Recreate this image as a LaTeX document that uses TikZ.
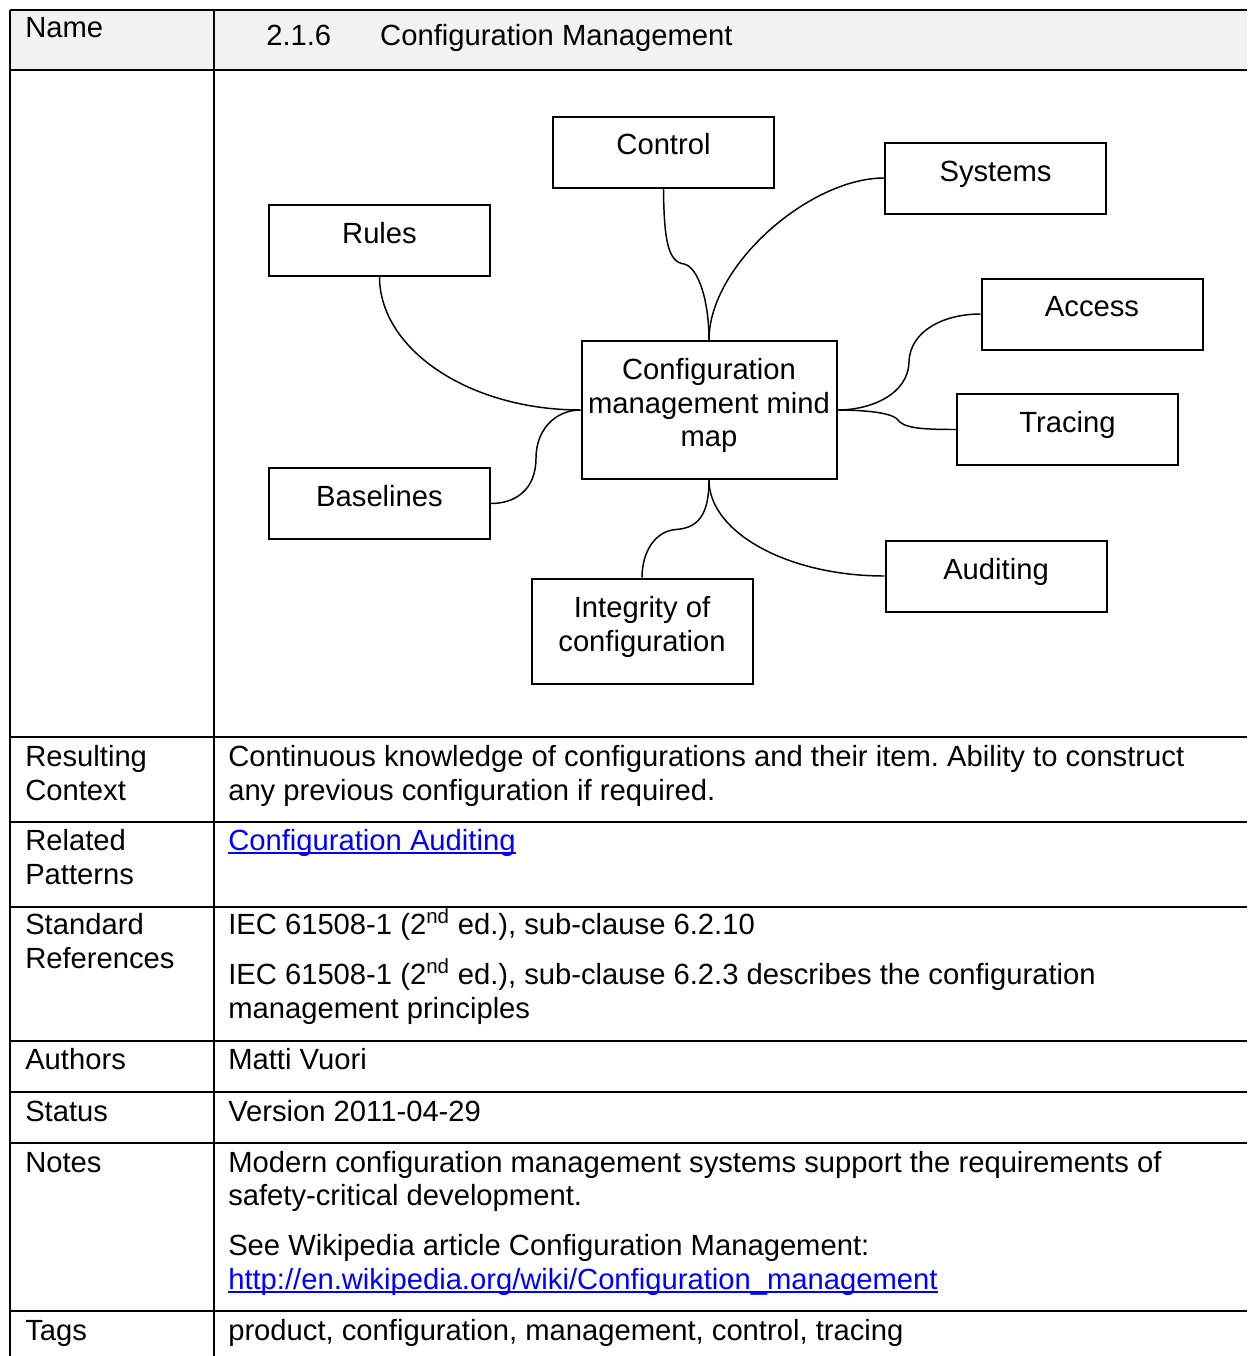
\documentclass[tikz,border=0pt]{standalone}
\usepackage{fontspec}
\setmainfont{Liberation Sans}
\usetikzlibrary{calc}
\definecolor{hdrgray}{HTML}{F2F2F2}
\definecolor{linkblue}{HTML}{0000FF}
\frenchspacing
\begin{document}
\begin{tikzpicture}[x=0.75pt,y=-0.75pt,
  font=\fontsize{21.9pt}{25.5pt}\selectfont,
  rulestroke/.style={line width=1.9pt},
  mapbox/.style={draw, line width=1.5pt, inner sep=0pt,
    minimum width=165.75pt, minimum height=53.25pt},
  boxtext/.style={anchor=base, inner sep=0pt},
  cell/.style={anchor=base west, inner sep=0pt},
  branch/.style={line width=1.1pt},
  weblink/.style={cell, text=linkblue}]
\useasboundingbox (0,0) rectangle (1247,1356);

% ---------- table frame ----------
\fill[hdrgray] (10,10) rectangle (1247,70);
\draw[rulestroke] (10,10) -- (1247,10);
\draw[rulestroke] (10,70) -- (1247,70);
\foreach \yy in {737,822,907,1041,1092,1143,1311}
  \draw[rulestroke] (10,\yy) -- (1247,\yy);
\draw[rulestroke] (10,10) -- (10,1356);
\draw[rulestroke] (214,10) -- (214,1356);

% ---------- header ----------
\node[cell] (hname) at (25,37) {Name};
\node[cell] (htitle) at (266,45) {\makebox[85.5pt][l]{2.1.6}Configuration Management};

% ---------- mind map boxes ----------
\node[mapbox] (ctl) at (663.5,152.5) {};
\node[mapbox] (sys) at (995.5,178) {};
\node[mapbox] (rul) at (379.5,240) {};
\node[mapbox] (acc) at (1092,314) {};
\node[mapbox, minimum width=191.25pt, minimum height=103.5pt] (cen) at (709,410) {};
\node[mapbox] (trc) at (1067.5,429.5) {};
\node[mapbox] (bas) at (379.5,503.5) {};
\node[mapbox] (aud) at (996,576) {};
\node[mapbox, minimum height=78.75pt] (itg) at (642,631) {};

\node[boxtext] (ctlt) at ($(ctl.north)+(0,38)$) {Control};
\node[boxtext] (syst) at ($(sys.north)+(0,40)$) {Systems};
\node[boxtext] (rult) at ($(rul.north)+(0,40)$) {Rules};
\node[boxtext] (acct) at ($(acc.north)+(0,39)$) {Access};
\node[boxtext] (cent1) at ($(cen.north)+(0,39)$) {Configuration};
\node[boxtext] (cent2) at ($(cen.north)+(0,73)$) {management mind};
\node[boxtext] (cent3) at ($(cen.north)+(0,106)$) {map};
\node[boxtext] (trct) at ($(trc.north)+(0,39)$) {Tracing};
\node[boxtext] (bast) at ($(bas.north)+(0,39)$) {Baselines};
\node[boxtext] (audt) at ($(aud.north)+(0,39.5)$) {Auditing};
\node[boxtext] (itgt1) at ($(itg.north)+(0,40)$) {Integrity of};
\node[boxtext] (itgt2) at ($(itg.north)+(0,74)$) {configuration};

% ---------- branches ----------
\draw[branch] (ctl.south) .. controls (664,240) and (668,262) .. (684,264)
  .. controls (698,267) and (709,300) .. (cen.north);
\draw[branch] (sys.west) .. controls (810,178) and (709,265) .. (cen.north);
\draw[branch] (rul.south) .. controls (379.5,350) and (470,410) .. (cen.west);
\draw[branch] (bas.east) .. controls (515,503.5) and (536,490) .. (536,458)
  .. controls (536,430) and (555,410) .. (cen.west);
\draw[branch] (acc.west) .. controls (945,314) and (910,330) .. (909,362)
  .. controls (908,395) and (870,410) .. (cen.east);
\draw[branch] (trc.west) .. controls (920,429.5) and (903,428) .. (897,419)
  .. controls (890,412) and (860,410) .. (cen.east);
\draw[branch] (cen.south) .. controls (709,515) and (698,528) .. (676,529.5)
  .. controls (655,531) and (642,552) .. (itg.north);
\draw[branch] (cen.south) .. controls (709,532.5) and (788,576) .. (aud.west);

% ---------- table rows ----------
\node[cell] (rc1) at (25,766) {Resulting};
\node[cell] (rc2) at (25,800) {Context};
\node[cell] (rcv1) at (228,766) {Continuous knowledge of configurations and their item. Ability to construct};
\node[cell] (rcv2) at (228,800) {any previous configuration if required.};

\node[cell] (rp1) at (25,850) {Related};
\node[cell] (rp2) at (25,884) {Patterns};
\node[weblink] (rpv) at (228,850) {Configuration Auditing};
\draw[linkblue, line width=1pt] ($(rpv.base west)+(0,3)$) -- ($(rpv.base east)+(0,3)$);

\node[cell] (sr1) at (25,934) {Standard};
\node[cell] (sr2) at (25,968) {References};
\node[cell] (srv1) at (228,934) {IEC 61508-1 (2\textsuperscript{nd} ed.), sub-clause 6.2.10};
\node[cell] (srv2) at (228,984) {IEC 61508-1 (2\textsuperscript{nd} ed.), sub-clause 6.2.3 describes the configuration};
\node[cell] (srv3) at (228,1018) {management principles};

\node[cell] (au) at (25,1069) {Authors};
\node[cell] (auv) at (228,1069) {Matti Vuori};

\node[cell] (st) at (25,1121) {Status};
\node[cell] (stv) at (228,1121) {Version 2011-04-29};

\node[cell] (nt) at (25,1172) {Notes};
\node[cell] (ntv1) at (228,1172) {Modern configuration management systems support the requirements of};
\node[cell] (ntv2) at (228,1205) {safety-critical development.};
\node[cell] (ntv3) at (228,1255) {See Wikipedia article Configuration Management:};
\node[weblink] (ntv4) at (228,1289) {http://en.wikipedia.org/wiki/Configuration\_management};
\draw[linkblue, line width=1pt] ($(ntv4.base west)+(0,3)$) -- ($(ntv4.base east)+(0,3)$);

\node[cell] (tg) at (25,1340) {Tags};
\node[cell] (tgv) at (228,1340) {product, configuration, management, control, tracing};
\end{tikzpicture}
\end{document}
